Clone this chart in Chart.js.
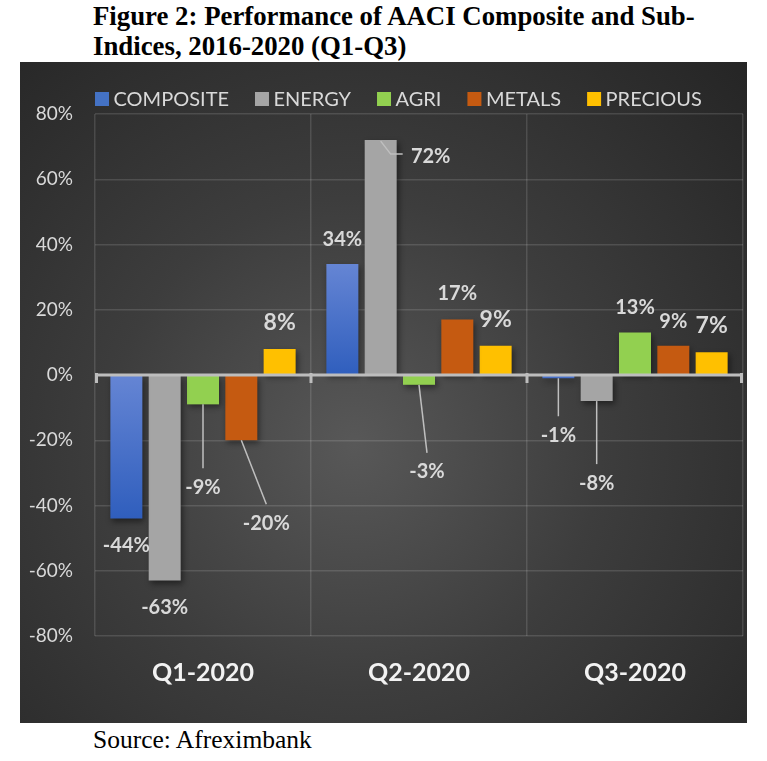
<!DOCTYPE html>
<html>
<head>
<meta charset="utf-8">
<script src="https://cdn.jsdelivr.net/npm/chart.js@4.4.1/dist/chart.umd.min.js"></script>
<style>
    html, body { margin: 0; padding: 0; background: #fff; }
    body { width: 767px; height: 761px; position: relative; overflow: hidden; }
    .title {
        position: absolute; left: 93px; top: 1px;
        font: bold 26.8px "Liberation Serif", serif; line-height: 30px; color: #000;
    }
    .box {
        position: absolute; left: 20px; top: 62px; width: 727px; height: 661px;
        background: radial-gradient(circle at 46% 58%, #585858 0%, #3d3d3d 45%, #252525 100%);
    }
    .source {
        position: absolute; left: 93px; top: 725px;
        font: 25.5px "Liberation Serif", serif; color: #000;
    }
</style>
</head>
<body>
<div class="title">Figure 2: Performance of AACI Composite and Sub-<br>Indices, 2016-2020 (Q1-Q3)</div>
<div class="box"><canvas id="chart" width="727" height="661"></canvas></div>
<div class="source">Source: Afreximbank</div>

<script>
// Data (percent change)
const categories = ['Q1-2020', 'Q2-2020', 'Q3-2020'];
const seriesNames = ['COMPOSITE', 'ENERGY', 'AGRI', 'METALS', 'PRECIOUS'];
const composite = [-44, 34, -1];
const energy = [-63, 72, -8];
const agri = [-9, -3, 13];
const metals = [-20, 17, 9];
const precious = [8, 9, 7];
const yMin = -80;
const yMax = 80;
const yStep = 20;

const seriesColors = ['#4472c4', '#a5a5a5', '#92d050', '#c55a11', '#ffc000'];

// Data label placement (px offsets from bar end), same shape as the series
const labelLayout = [
    [{ dx: 0, dy: 27 }, { dx: 0, dy: -25 }, { dx: 0, dy: 57, leader: 'line' }],
    [{ dx: 0, dy: 27 }, { dx: 50, dy: 16, leader: 'elbow' }, { dx: 0, dy: 82, leader: 'line' }],
    [{ dx: 0, dy: 83, leader: 'line' }, { dx: 8, dy: 87, leader: 'line' }, { dx: 0, dy: -25 }],
    [{ dx: 25, dy: 83, leader: 'line' }, { dx: 0, dy: -26 }, { dx: 0, dy: -24 }],
    [{ dx: 0, dy: -26 }, { dx: 0, dy: -26 }, { dx: 0, dy: -27 }]
];
const labelSizes = [20, 20, 20, 20, 23];

const FONT = 'Lato, "Open Sans", sans-serif';

// Composite bars get a light-to-dark vertical gradient
function compositeFill(context) {
    const chart = context.chart;
    const y = chart.scales.y;
    if (context.type !== 'data' || !y || !chart.chartArea) {
        return seriesColors[0];
    }
    const v = context.raw;
    const top = y.getPixelForValue(Math.max(v, 0));
    const bottom = y.getPixelForValue(Math.min(v, 0));
    const g = chart.ctx.createLinearGradient(0, top, 0, bottom + 1);
    g.addColorStop(0, '#6585d4');
    g.addColorStop(1, '#2f5ebd');
    return g;
}

const seriesValues = [composite, energy, agri, metals, precious];

const datasets = seriesValues.map((values, i) => ({
    label: seriesNames[i],
    data: values,
    backgroundColor: i === 0 ? compositeFill : seriesColors[i],
    borderWidth: 0,
    categoryPercentage: 0.887,
    barPercentage: 0.835
}));

// Soft drop shadow under bars
const barShadow = {
    id: 'barShadow',
    beforeDatasetsDraw(chart) {
        const ctx = chart.ctx;
        ctx.save();
        ctx.shadowColor = 'rgba(0, 0, 0, 0.45)';
        ctx.shadowBlur = 6;
        ctx.shadowOffsetX = 2;
        ctx.shadowOffsetY = 3;
    },
    afterDatasetsDraw(chart) {
        chart.ctx.restore();
    }
};

// Zero axis line with tick marks, data labels and leader lines
const overlay = {
    id: 'overlay',
    afterDatasetsDraw(chart) {
        const ctx = chart.ctx;
        const y = chart.scales.y;
        const area = chart.chartArea;
        const y0 = y.getPixelForValue(0);

        ctx.save();
        ctx.strokeStyle = '#bdbdbd';
        ctx.lineWidth = 3;
        ctx.beginPath();
        ctx.moveTo(area.left, y0);
        ctx.lineTo(area.right, y0);
        ctx.stroke();
        const step = (area.right - area.left) / categories.length;
        for (let i = 0; i <= categories.length; i++) {
            const tx = area.left + i * step + (i === 0 ? 1.5 : i === categories.length ? -1.5 : 0);
            ctx.beginPath();
            ctx.moveTo(tx, y0 - 2);
            ctx.lineTo(tx, y0 + 8);
            ctx.stroke();
        }

        chart.data.datasets.forEach((ds, di) => {
            const meta = chart.getDatasetMeta(di);
            meta.data.forEach((bar, i) => {
                const v = ds.data[i];
                const lay = labelLayout[di][i];
                const bx = bar.x;
                const by = y.getPixelForValue(v);
                const lx = bx + lay.dx;
                const ly = by + lay.dy;

                ctx.strokeStyle = '#bfbfbf';
                ctx.lineWidth = 1.5;
                if (lay.leader === 'line') {
                    ctx.beginPath();
                    ctx.moveTo(bx, by);
                    ctx.lineTo(lx, ly - 19);
                    ctx.stroke();
                } else if (lay.leader === 'elbow') {
                    ctx.beginPath();
                    ctx.moveTo(bx, by + 1);
                    ctx.lineTo(bx + 10, ly - 2);
                    ctx.lineTo(lx - 28, ly - 2);
                    ctx.stroke();
                }

                ctx.fillStyle = '#d9d9d9';
                ctx.font = 'bold ' + labelSizes[di] + 'px ' + FONT;
                ctx.textAlign = 'center';
                ctx.textBaseline = 'middle';
                ctx.fillText(v + '%', lx, ly);
            });
        });
        ctx.restore();
    }
};

// Legend drawn left-aligned like the original
const topLegend = {
    id: 'topLegend',
    afterDraw(chart) {
        const ctx = chart.ctx;
        ctx.save();
        ctx.font = '20px ' + FONT;
        ctx.textBaseline = 'middle';
        ctx.textAlign = 'left';
        let cx = 75;
        const cy = 37;
        chart.data.datasets.forEach((ds, i) => {
            ctx.fillStyle = seriesColors[i];
            ctx.fillRect(cx, cy - 7, 14, 14);
            cx += 18.5;
            ctx.fillStyle = '#d9d9d9';
            ctx.fillText(ds.label, cx, cy + 1);
            cx += ctx.measureText(ds.label).width + 26;
        });
        ctx.restore();
    }
};

const gridColor = 'rgba(255, 255, 255, 0.13)';

new Chart(document.getElementById('chart'), {
    type: 'bar',
    data: {
        labels: categories,
        datasets: datasets
    },
    options: {
        responsive: false,
        animation: false,
        layout: {
            padding: { left: 0, right: 4, top: 52, bottom: 0 }
        },
        scales: {
            x: {
                grid: {
                    offset: true,
                    color: gridColor,
                    lineWidth: 1.5,
                    drawTicks: false
                },
                border: { display: false },
                ticks: {
                    color: '#f2f2f2',
                    padding: 22,
                    font: { family: FONT, size: 25, weight: 'bold' }
                },
                afterFit(scale) {
                    scale.height = 87;
                }
            },
            y: {
                min: yMin,
                max: yMax,
                grid: {
                    color: gridColor,
                    lineWidth: 1.5,
                    drawTicks: false
                },
                border: { display: false },
                ticks: {
                    stepSize: yStep,
                    color: '#d9d9d9',
                    padding: 22,
                    font: { family: FONT, size: 19 },
                    callback: v => v + '%'
                },
                afterFit(scale) {
                    scale.width = 75;
                }
            }
        },
        plugins: {
            legend: { display: false },
            tooltip: { enabled: false }
        }
    },
    plugins: [barShadow, overlay, topLegend]
});
</script>
</body>
</html>
